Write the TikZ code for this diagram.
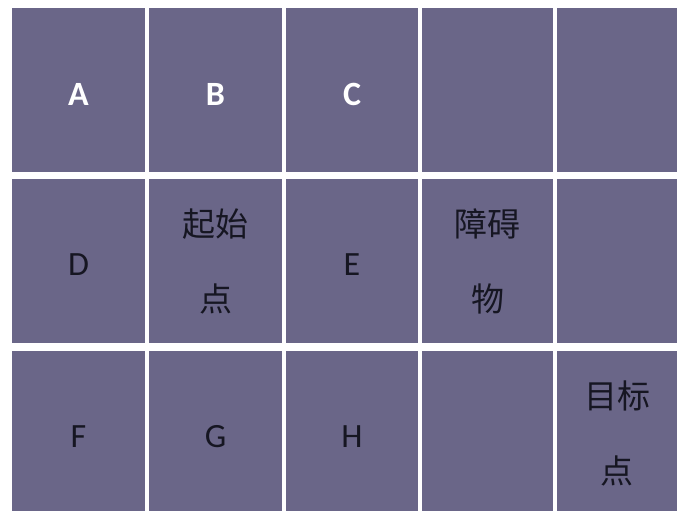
\documentclass[tikz,border=0pt]{standalone}
\usepackage{fontspec}
\setmainfont{Carlito}
\newfontfamily\cjk{Noto Sans CJK SC}
\definecolor{cellfill}{RGB}{106,102,136}
\definecolor{darktext}{RGB}{22,22,34}
\begin{document}
\begin{tikzpicture}[x=1pt,y=-1pt,
  cell/.style={fill=cellfill,draw=none},
  lbl/.style={font=\fontsize{34}{36}\selectfont,text=darktext,anchor=center},
  hdr/.style={font=\fontsize{34}{36}\selectfont\bfseries,text=white,anchor=center},
  cn/.style={font=\fontsize{33}{75}\selectfont\cjk,text=darktext,align=center,anchor=center}]
\useasboundingbox (0,0) rectangle (677,511);
\fill[white] (0,0) rectangle (677,511);
% columns: x ranges ; rows: y ranges
\foreach \xa/\xb in {12/145,149/282,286/418,422/553,557/677}{
  \foreach \ya/\yb in {8/172,179/343,351/511}{
    \fill[cellfill] (\xa,\ya) rectangle (\xb,\yb);
  }
}
\node[hdr] (A) at (78.5,94) {A};
\node[hdr] (B) at (215.5,94) {B};
\node[hdr] (C) at (352,94) {C};
\node[lbl] (D) at (78.5,265) {D};
\node[cn] (S) at (215.5,261) {起始\\点};
\node[lbl] (E) at (352,265) {E};
\node[cn] (O) at (487.5,261) {障碍\\物};
\node[lbl] (F) at (78.5,437) {F};
\node[lbl] (G) at (215.5,437) {G};
\node[lbl] (H) at (352,437) {H};
\node[cn] (T) at (617,433) {目标\\点};
\end{tikzpicture}
\end{document}
